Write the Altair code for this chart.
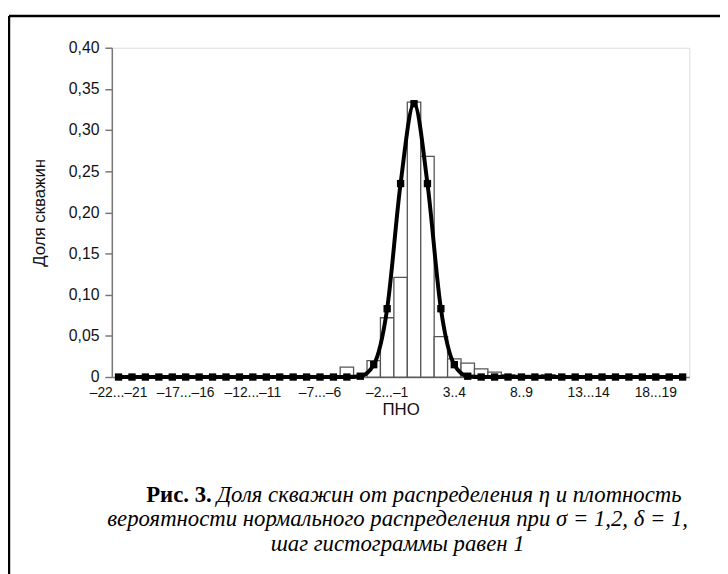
import altair as alt
import pandas as pd

# categories -22 ... 20 (class intervals of width 1)
bins = list(range(-22, 21))

def cat_label(n):
    a, b = n, n + 1
    fa = ("–" + str(-a)) if a < 0 else str(a)
    fb = ("–" + str(-b)) if b < 0 else str(b)
    sep = ".." if (0 <= a < 10) else "..."
    return fa + sep + fb

categories = [cat_label(n) for n in bins]
shown_labels = ["–22...–21", "–17...–16", "–12...–11", "–7...–6", "–2...–1",
                "3..4", "8..9", "13...14", "18...19"]

# histogram: share of wells
hist_values = [0, 0, 0, 0, 0, 0, 0, 0, 0, 0,
               0, 0, 0, 0, 0, 0, 0, 0.012, 0, 0.020,
               0.072, 0.121, 0.334, 0.268, 0.049, 0.022, 0.017, 0.010, 0.006, 0.003,
               0.002, 0.002, 0.003, 0.001, 0, 0, 0, 0, 0, 0,
               0, 0, 0]

# normal density at class centres
line_values = [0, 0, 0, 0, 0, 0, 0, 0, 0, 0,
               0, 0, 0, 0, 0, 0, 0, 0, 0.001, 0.015,
               0.083, 0.235, 0.332, 0.235, 0.083, 0.015, 0.001, 0, 0, 0,
               0, 0, 0, 0, 0, 0, 0, 0, 0, 0,
               0, 0, 0]

caption_bold = "Рис. 3."
caption_line1 = "Доля скважин от распределения η и плотность"
caption_line2 = "вероятности нормального распределения при σ = 1,2, δ = 1,"
caption_line3 = "шаг гистограммы равен 1"

df = pd.DataFrame({"cat": categories, "hist": hist_values, "dens": line_values})

W, H = 584, 333
SANS = "Liberation Sans"
SERIF = "Liberation Serif"

xscale = alt.Scale(domain=categories, paddingInner=0, paddingOuter=0)
yscale = alt.Scale(domain=[0, 0.4])

x_enc = alt.X("cat:N", scale=xscale, sort=categories,
              axis=alt.Axis(title="ПНО", values=shown_labels, labelAngle=0, ticks=False,
                            labelFont=SANS, labelFontSize=14, labelColor="#111",
                            labelPadding=9, titleFont=SANS, titleFontSize=17,
                            titleFontWeight="normal", titleColor="#111", titlePadding=2,
                            domainColor="#777", domainWidth=1.5, labelOverlap=False))
y_axis = alt.Axis(title="Доля скважин", values=[0, 0.05, 0.1, 0.15, 0.2, 0.25, 0.3, 0.35, 0.4],
                  labelExpr="datum.value == 0 ? '0' : replace(format(datum.value, '.2f'), '.', ',')",
                  labelFont=SANS, labelFontSize=16, labelColor="#111", labelPadding=6,
                  tickSize=7, tickColor="#777", tickWidth=1.5, domainColor="#777", domainWidth=1.5,
                  titleFont=SANS, titleFontSize=17, titleFontWeight="normal", titleColor="#111",
                  titlePadding=20, grid=False)

bars = alt.Chart(df).transform_filter("datum.hist > 0").mark_bar(
    fill="white", stroke="#555", strokeWidth=1.3
).encode(x=x_enc, y=alt.Y("hist:Q", scale=yscale, axis=y_axis))

line = alt.Chart(df).mark_line(color="black", strokeWidth=4, interpolate="monotone").encode(
    x=alt.X("cat:N", scale=xscale, sort=categories),
    y=alt.Y("dens:Q", scale=yscale))

pts = alt.Chart(df).mark_point(shape="square", filled=True, color="black", size=55, opacity=1).encode(
    x=alt.X("cat:N", scale=xscale, sort=categories),
    y=alt.Y("dens:Q", scale=yscale))

one = df[df["cat"] == "0..1"]

# frame
top_border = alt.Chart(one).mark_rule(color="black", strokeWidth=2.5).encode(
    x=alt.value(-104), x2=alt.value(620), y=alt.value(-32))
left_border = alt.Chart(one).mark_rule(color="black", strokeWidth=2.5).encode(
    x=alt.value(-104), y=alt.value(-32), y2=alt.value(560))

cx = 289
FS = 23
t_bold = alt.Chart(one).mark_text(font=SERIF, fontSize=FS, fontWeight="bold", align="right",
                                  baseline="middle", color="black").encode(
    x=alt.value(101), y=alt.value(452), text=alt.value(caption_bold))
t1 = alt.Chart(one).mark_text(font=SERIF, fontSize=FS, fontStyle="italic", align="left",
                              baseline="middle", color="black").encode(
    x=alt.value(106), y=alt.value(452), text=alt.value(caption_line1))
t2 = alt.Chart(one).mark_text(font=SERIF, fontSize=FS, fontStyle="italic", align="center",
                              baseline="middle", color="black").encode(
    x=alt.value(cx), y=alt.value(477), text=alt.value(caption_line2))
t3 = alt.Chart(one).mark_text(font=SERIF, fontSize=FS, fontStyle="italic", align="center",
                              baseline="middle", color="black").encode(
    x=alt.value(cx), y=alt.value(502), text=alt.value(caption_line3))

chart = alt.layer(bars, line, pts, top_border, left_border, t_bold, t1, t2, t3).properties(
    width=W, height=H,
    autosize=alt.AutoSizeParams(type="none"),
    padding={"left": 105, "top": 37, "right": 31, "bottom": 196},
).configure_view(stroke=None).configure(background="white")

chart.save("out.html", embed_options={"renderer": "svg", "actions": False})
